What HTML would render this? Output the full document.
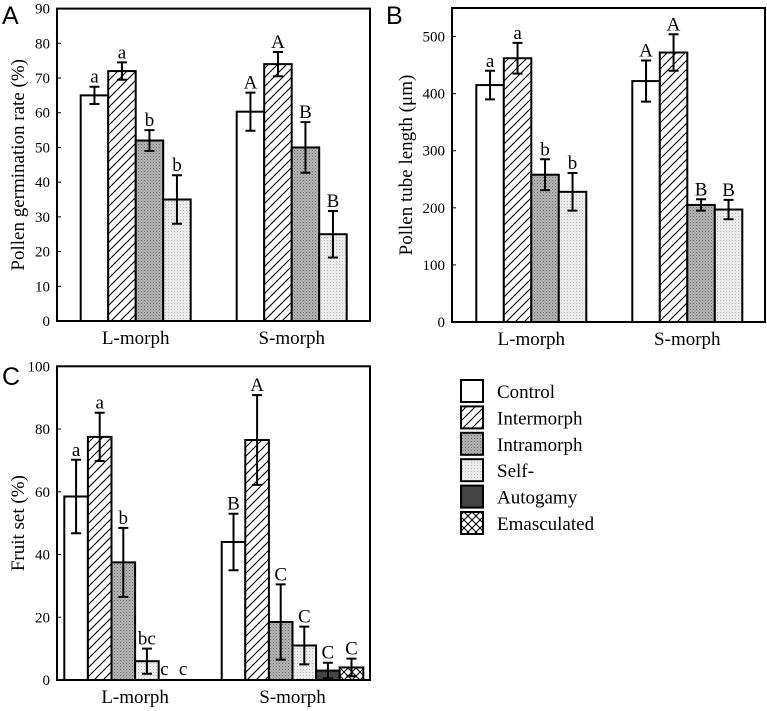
<!DOCTYPE html>
<html><head><meta charset="utf-8"><style>
body{margin:0;background:#fff;}
svg{display:block;font-family:"Liberation Serif",serif;}
svg text{font-family:"Liberation Serif",serif;}
svg text.pl{font-family:"Liberation Sans",sans-serif;font-size:25px;}
</style></head><body>
<svg id="fig" width="767" height="711" viewBox="0 0 767 711" xmlns="http://www.w3.org/2000/svg">
<defs>
<pattern id="p1" patternUnits="userSpaceOnUse" width="9" height="9"><rect width="9" height="9" fill="#fff"/><path d="M-2,11 L11,-2 M-2,2 L2,-2 M7,11 L11,7" stroke="#000" stroke-width="1.1"/></pattern>
<pattern id="p2" patternUnits="userSpaceOnUse" width="3" height="3"><rect width="3" height="3" fill="#b4b4b4"/><rect width="1" height="1" fill="#6a6a6a"/><rect x="1.5" y="1.5" width="1" height="1" fill="#8a8a8a"/></pattern>
<pattern id="p3" patternUnits="userSpaceOnUse" width="3" height="3"><rect width="3" height="3" fill="#ececec"/><rect width="1" height="1" fill="#b8b8b8"/></pattern>
<pattern id="p5" patternUnits="userSpaceOnUse" width="8" height="8"><rect width="8" height="8" fill="#fff"/><path d="M0,0 L8,8 M8,0 L0,8" stroke="#000" stroke-width="1"/></pattern>
</defs>
<g id="chartA"></g>
<g id="chartB"></g>
<g id="chartC"></g>
<g id="legend"></g>
</svg>
<script>
const groups = ["L-morph","S-morph"];
const seriesNames = ["Control","Intermorph","Intramorph","Self-","Autogamy","Emasculated"];
const fills = ["#fff","url(#p1)","url(#p2)","url(#p3)","#444","url(#p5)"];

const aTicks = [0,10,20,30,40,50,60,70,80,90];
const aL = [65,72,52,35];
const aLerr = [2.5,2.5,3,7];
const aLlab = ["a","a","b","b"];
const aS = [60.3,74,50,25];
const aSerr = [5.5,3.5,7.3,6.7];
const aSlab = ["A","A","B","B"];

const bTicks = [0,100,200,300,400,500];
const bL = [415,462,258,228];
const bLerr = [25,27,27,33];
const bLlab = ["a","a","b","b"];
const bS = [422,472,205,197];
const bSerr = [36,32,10,17];
const bSlab = ["A","A","B","B"];

const cTicks = [0,20,40,60,80,100];
const cL = [58.5,77.5,37.5,6,0,0];
const cLerr = [11.7,7.7,11,4,0,0];
const cLlab = ["a","a","b","bc","c","c"];
const cS = [44,76.5,18.5,11,3,4];
const cSerr = [9,14.3,12,6,2.5,2.8];
const cSlab = ["B","A","C","C","C","C"];

const NS="http://www.w3.org/2000/svg";
function mk(parent,tag,attrs,text){const e=document.createElementNS(NS,tag);for(const k in attrs)e.setAttribute(k,attrs[k]);if(text!==undefined)e.textContent=text;parent.appendChild(e);return e;}

function drawPanel(g,cfg){
  const {x0,x1,y0,y1,max,ticks,series,errs,labs,groupStarts,barW,title,panel,titleX}=cfg;
  const ys=v=>y1-(v/max)*(y1-y0);
  let t;
  ticks.forEach(v=>{
    t=mk(g,'text',{x:x0-7,y:ys(v)+5,'text-anchor':'end','font-size':15},String(v));
    
    
    const tk=mk(g,'line',{x1:x0,x2:x0+4,y1:ys(v),y2:ys(v),stroke:'#000','stroke-width':1});
    
    
  });
  series.forEach((vals,gi)=>{
    vals.forEach((v,i)=>{
      const bx=groupStarts[gi]+i*barW;
      if(v>0){
        const r=mk(g,'rect',{x:bx,y:ys(v),width:barW,height:ys(0)-ys(v),fill:fills[i],stroke:'#000','stroke-width':2});
        
        
      }
      const e=errs[gi][i];const cx=bx+barW/2;
      if(e>0){
        const eb=mk(g,'path',{d:`M${cx},${ys(v+e)}V${ys(v-e)}M${cx-5},${ys(v+e)}H${cx+5}M${cx-5},${ys(v-e)}H${cx+5}`,stroke:'#000','stroke-width':2,fill:'none'});
        
        
      }
      const ly=v+e>0?ys(v+e)-4:ys(0)-5;
      const lbx=(v+e>0)?cx:cx+(i===4?-6:-11);
      t=mk(g,'text',{x:lbx,y:ly,'text-anchor':'middle','font-size':19},labs[gi][i]);
      
      
    });
    const n=vals.length;
    t=mk(g,'text',{x:groupStarts[gi]+n*barW/2,y:y1+23,'text-anchor':'middle','font-size':19},groups[gi]);
    
    
  });
  const fr=mk(g,'rect',{x:x0,y:y0,width:x1-x0,height:y1-y0,fill:'none',stroke:'#000','stroke-width':2});
  
  
  const cy=(y0+y1)/2;
  t=mk(g,'text',{x:titleX,y:cy,'text-anchor':'middle','font-size':19,transform:`rotate(-90 ${titleX} ${cy})`},title);
  
  
  t=mk(g,'text',{x:cfg.px,y:cfg.py,'class':'pl'},panel);
  
  
}

drawPanel(document.getElementById('chartA'),{x0:57,x1:370,y0:8.6,y1:321,max:90,ticks:aTicks,series:[aL,aS],errs:[aLerr,aSerr],labs:[aLlab,aSlab],groupStarts:[80.7,236.7],barW:27.5,title:"Pollen germination rate (%)",panel:"A",titleX:24,px:2,py:24});
drawPanel(document.getElementById('chartB'),{x0:452,x1:765,y0:8,y1:322,max:550,ticks:bTicks,series:[bL,bS],errs:[bLerr,bSerr],labs:[bLlab,bSlab],groupStarts:[476.3,632.3],barW:27.5,title:"Pollen tube length (\u03bcm)",panel:"B",titleX:412,px:386,py:24});
drawPanel(document.getElementById('chartC'),{x0:57,x1:370,y0:366.3,y1:680,max:100,ticks:cTicks,series:[cL,cS],errs:[cLerr,cSerr],labs:[cLlab,cSlab],groupStarts:[64.3,221.7],barW:23.6,title:"Fruit set (%)",panel:"C",titleX:24,px:2,py:385});

const lg=document.getElementById('legend');
seriesNames.forEach((n,i)=>{
  const y=380+i*26.4;
  const r=mk(lg,'rect',{x:461,y:y,width:22,height:22,fill:fills[i],stroke:'#000','stroke-width':2});
  
  
  const t=mk(lg,'text',{x:497,y:y+18,'font-size':19},n);
  
  
});
</script>
</body></html>
